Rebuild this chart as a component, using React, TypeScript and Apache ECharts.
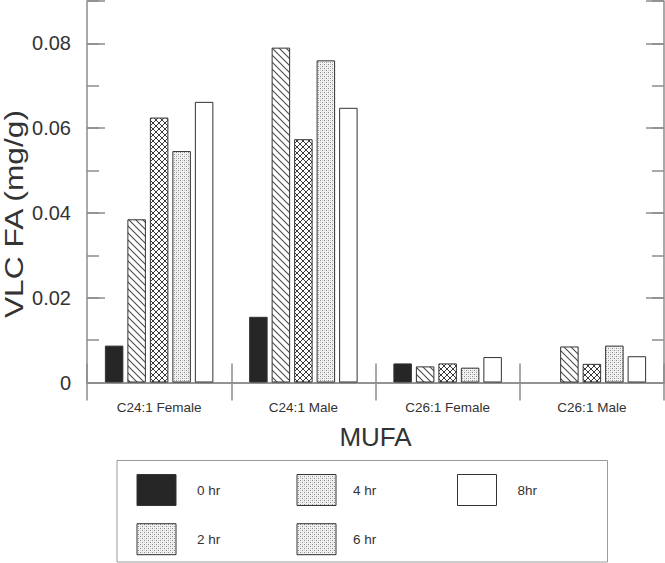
import React, { useEffect, useRef } from "react";
import * as echarts from "echarts";

const categories = ["C24:1 Female", "C24:1 Male", "C26:1 Female", "C26:1 Male"];
const seriesNames = ["0 hr", "2 hr", "4 hr", "6 hr", "8hr"];
const hr0 = [0.0087, 0.0155, 0.0045, null];
const hr2 = [0.0385, 0.079, 0.0038, 0.0085];
const hr4 = [0.0625, 0.0574, 0.0045, 0.0044];
const hr6 = [0.0546, 0.076, 0.0035, 0.0087];
const hr8 = [0.0662, 0.0648, 0.006, 0.0062];
const seriesValues = [hr0, hr2, hr4, hr6, hr8];
const barFills = ["solid", "diag", "cross", "dots", "white"];
const legendFills = ["solid", "dots", "dots", "dots", "white"];
const yMin = 0;
const yMax = 0.09;
const yMajor = 0.02;
const yMinor = 0.01;
const yAxisTitle = "VLC FA (mg/g)";
const xAxisTitle = "MUFA";

const FONT = "'Liberation Sans', Arial, Helvetica, sans-serif";
const AXIS_COLOR = "#8c8c8c";
const TEXT_COLOR = "#333";

function makePattern(kind: string): any {
  if (kind === "solid") return "#262626";
  if (kind === "white") return "#ffffff";
  const c = document.createElement("canvas");
  let size = 6;
  if (kind === "diag") size = 7;
  if (kind === "cross") size = 6;
  if (kind === "dots") size = 4;
  c.width = size;
  c.height = size;
  const ctx = c.getContext("2d")!;
  ctx.fillStyle = "#ffffff";
  ctx.fillRect(0, 0, size, size);
  if (kind === "diag") {
    ctx.strokeStyle = "#4a4a4a";
    ctx.lineWidth = 1.1;
    ctx.beginPath();
    for (let o = -size; o <= size; o += size) {
      ctx.moveTo(o - 1, -1);
      ctx.lineTo(o + size + 1, size + 1);
    }
    ctx.stroke();
  } else if (kind === "cross") {
    ctx.strokeStyle = "#3a3a3a";
    ctx.lineWidth = 1;
    ctx.beginPath();
    for (let o = -size; o <= size; o += size) {
      ctx.moveTo(o - 1, -1);
      ctx.lineTo(o + size + 1, size + 1);
      ctx.moveTo(o + size + 1, -1);
      ctx.lineTo(o - 1, size + 1);
    }
    ctx.stroke();
  } else if (kind === "dots") {
    ctx.fillStyle = "#f2f2f2";
    ctx.fillRect(0, 0, 4, 4);
    ctx.fillStyle = "#8a8a8a";
    ctx.fillRect(0, 0, 1, 1);
    ctx.fillRect(2, 2, 1, 1);
    ctx.fillStyle = "#c8c8c8";
    ctx.fillRect(2, 0, 1, 1);
    ctx.fillRect(0, 2, 1, 1);
  }
  return { image: c.toDataURL(), repeat: "repeat", imageWidth: size, imageHeight: size };
}

export default function App() {
  const ref = useRef<HTMLDivElement>(null);

  useEffect(() => {
    if (!ref.current) return;
    const chart = echarts.init(ref.current, null, { renderer: "svg" });

    const gridRect = {
      left: 87,
      right: 1,
      top: 1,
      bottom: 180.5,
      containLabel: false,
      outerBoundsMode: "none",
    };
    const tickStyle = { color: AXIS_COLOR, width: 1.5 };
    const lineStyle = { color: AXIS_COLOR, width: 1.5 };

    const majorLabel = (v: number) => {
      if (v > yMax - yMinor / 2) return "";
      if (Math.abs(v) < 1e-9) return "0";
      return v.toFixed(2);
    };

    const legendCols = [137, 297, 457.5];
    const legendRows = [474.5, 523.7];
    const legendTextX = [197, 353, 517.5];
    const graphics: any[] = [
      {
        type: "text",
        x: 14,
        y: 214,
        rotation: Math.PI / 2,
        scaleX: 1.27,
        style: {
          text: yAxisTitle,
          fill: TEXT_COLOR,
          font: `25px ${FONT}`,
          align: "center",
          verticalAlign: "middle",
        },
        silent: true,
      },
      {
        type: "rect",
        shape: { x: 117, y: 460.5, width: 490.5, height: 101.5 },
        style: { fill: "#fff", stroke: "#9a9a9a", lineWidth: 1 },
        silent: true,
      },
    ];
    seriesNames.forEach((name, i) => {
      const col = Math.floor(i / 2);
      const row = i % 2;
      graphics.push({
        type: "rect",
        shape: { x: legendCols[col], y: legendRows[row], width: 39, height: 31 },
        style: { fill: makePattern(legendFills[i]), stroke: "#333", lineWidth: 1 },
        silent: true,
      });
      graphics.push({
        type: "text",
        x: legendTextX[col],
        y: legendRows[row] + 15.5,
        style: {
          text: name,
          fill: TEXT_COLOR,
          font: `13.5px ${FONT}`,
          verticalAlign: "middle",
        },
        silent: true,
      });
    });

    const option: any = {
      animation: false,
      backgroundColor: "#ffffff",
      textStyle: { fontFamily: FONT },
      grid: [gridRect, gridRect, gridRect],
      xAxis: [
        {
          gridIndex: 0,
          type: "category",
          data: categories,
          position: "bottom",
          axisLine: { show: true, lineStyle },
          axisTick: { show: true, inside: true, length: 19, lineStyle: tickStyle },
          axisLabel: { margin: 18, fontSize: 13.5, color: TEXT_COLOR, fontFamily: FONT },
          splitLine: { show: false },
          name: xAxisTitle,
          nameLocation: "middle",
          nameGap: 41,
          nameTextStyle: { fontSize: 26, color: TEXT_COLOR, fontFamily: FONT },
        },
        {
          gridIndex: 1,
          type: "category",
          data: categories,
          position: "top",
          axisLine: { show: true, lineStyle },
          axisTick: { show: true, inside: true, length: 18, lineStyle: tickStyle },
          axisLabel: { show: false },
          splitLine: { show: false },
        },
        {
          gridIndex: 2,
          type: "category",
          data: categories,
          show: false,
        },
      ],
      yAxis: [
        {
          gridIndex: 0,
          type: "value",
          position: "left",
          min: yMin,
          max: yMax,
          interval: yMajor,
          axisLine: { show: true, lineStyle },
          axisTick: { show: true, inside: true, length: 18, lineStyle: tickStyle },
          axisLabel: {
            margin: 16,
            fontSize: 20,
            color: TEXT_COLOR,
            fontFamily: FONT,
            formatter: majorLabel,
          },
          splitLine: { show: false },
        },
        {
          gridIndex: 1,
          type: "value",
          position: "right",
          min: yMin,
          max: yMax,
          interval: yMajor,
          axisLine: { show: true, lineStyle },
          axisTick: { show: true, inside: true, length: 18, lineStyle: tickStyle },
          axisLabel: { show: false },
          splitLine: { show: false },
        },
        {
          gridIndex: 2,
          type: "value",
          position: "left",
          min: yMin,
          max: yMax,
          interval: yMinor,
          axisLine: { show: false },
          axisTick: { show: true, inside: true, length: 12, lineStyle: tickStyle },
          axisLabel: { show: false },
          splitLine: { show: false },
        },
        {
          gridIndex: 2,
          type: "value",
          position: "right",
          min: yMin,
          max: yMax,
          interval: yMinor,
          axisLine: { show: false },
          axisTick: { show: true, inside: true, length: 12, lineStyle: tickStyle },
          axisLabel: { show: false },
          splitLine: { show: false },
        },
      ],
      series: seriesNames.map((name, i) => ({
        name,
        type: "bar",
        xAxisIndex: 0,
        yAxisIndex: 0,
        data: seriesValues[i],
        barWidth: 18.5,
        barGap: "21.6%",
        emphasis: { disabled: true },
        itemStyle: {
          color: makePattern(barFills[i]),
          borderColor: "#333",
          borderWidth: 1,
        },
      })),
      graphic: graphics,
    };

    chart.setOption(option);
    return () => {
      chart.dispose();
    };
  }, []);

  return (
    <div
      ref={ref}
      style={{ position: "absolute", left: 0, top: 0, width: 665, height: 563, background: "#fff" }}
    />
  );
}
